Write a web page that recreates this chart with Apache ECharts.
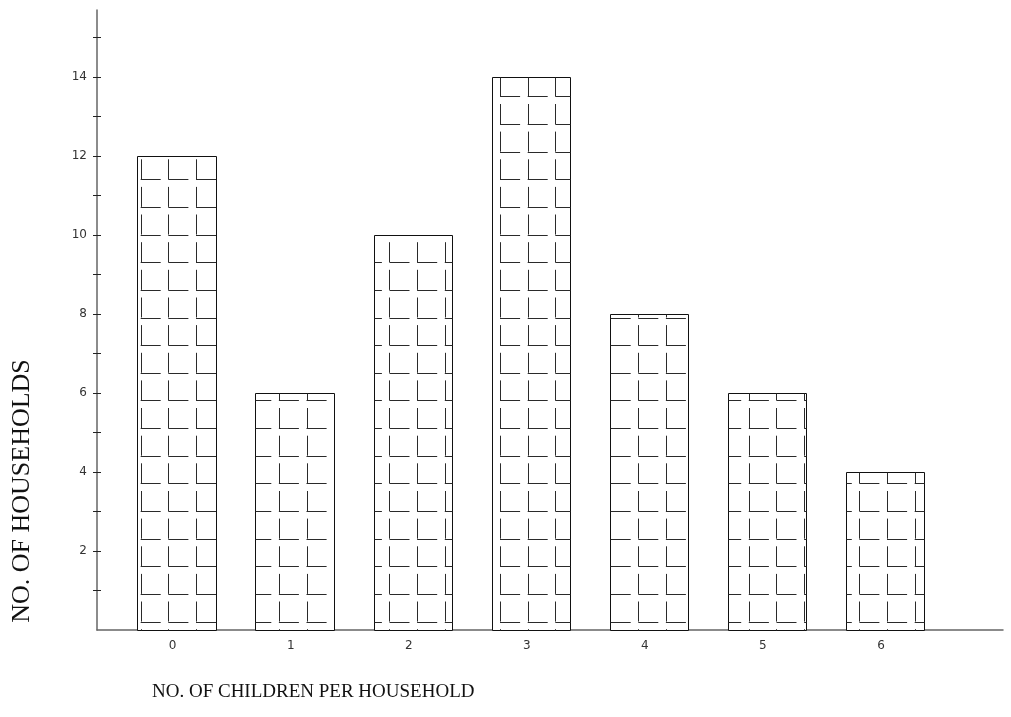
<!DOCTYPE html>
<html>
<head>
<meta charset="utf-8">
<script src="https://cdn.jsdelivr.net/npm/echarts@6/dist/echarts.min.js"></script>
<style>
  html, body { margin: 0; padding: 0; background: #fff; }
  #chart { width: 1011px; height: 717px; }
</style>
</head>
<body>
<div id="chart"></div>
<script>
// ---- data ----
const CATEGORIES = ['0', '1', '2', '3', '4', '5', '6'];
const HOUSEHOLDS = [12, 6, 10, 14, 8, 6, 4];
const Y_TICKS = [1, 2, 3, 4, 5, 6, 7, 8, 9, 10, 11, 12, 13, 14, 15];
const Y_LABELS = [2, 4, 6, 8, 10, 12, 14];
const X_LABELS = [0, 1, 2, 3, 4, 5, 6];
const X_TITLE = 'NO. OF CHILDREN PER HOUSEHOLD';
const Y_TITLE = 'NO. OF HOUSEHOLDS';

// ---- style constants (hatch pattern) ----
const BAR_W = 0.665;      // bar width in category units
const CELL = 0.7;         // hatch cell size in y units
const DASH_FRAC = 0.725;  // fraction of cell drawn by each stroke
const PHASE_Y = 0.213;    // y value of one hatch row
const PHASE_X = -0.305;   // x value of one hatch column

const seriesData = CATEGORIES.map((c, i) => [i, HOUSEHOLDS[i]]);

function px(v) { return Math.round(v) + 0.5; }

function renderItem(params, api) {
  const xv = api.value(0), yv = api.value(1);
  const tl = api.coord([xv - BAR_W / 2, yv]);
  const br = api.coord([xv + BAR_W / 2, 0]);
  const L = px(tl[0]), R = px(br[0]), T = px(tl[1]), B = px(br[1]);
  const cell = api.size([0, CELL])[1];
  const dash = cell * DASH_FRAC;
  const phaseY = api.coord([0, PHASE_Y])[1];
  const phaseX = api.coord([PHASE_X, 0])[0];
  let d = '';
  const k0 = Math.floor((T - phaseY) / cell) - 1;
  const k1 = Math.ceil((B - phaseY) / cell) + 1;
  const j0 = Math.floor((L - phaseX) / cell) - 1;
  const j1 = Math.ceil((R - phaseX) / cell) + 1;
  for (let k = k0; k <= k1; k++) {
    const yh = phaseY + k * cell;
    for (let j = j0; j <= j1; j++) {
      const xc = phaseX + j * cell;
      // horizontal stroke (bottom of the L)
      if (yh > T + 1.5 && yh < B - 1.5) {
        const x1 = Math.max(xc, L), x2 = Math.min(xc + dash, R);
        if (x2 - x1 > 0.8) {
          const yy = px(yh);
          d += 'M' + x1.toFixed(1) + ' ' + yy + 'L' + x2.toFixed(1) + ' ' + yy;
        }
      }
      // vertical stroke (left of the L)
      if (xc > L + 1.5 && xc < R - 1.5) {
        const y1 = Math.max(yh - dash, T), y2 = Math.min(yh, B);
        if (y2 - y1 > 0.8) {
          const xx = px(xc);
          d += 'M' + xx + ' ' + y1.toFixed(1) + 'L' + xx + ' ' + y2.toFixed(1);
        }
      }
    }
  }
  return {
    type: 'group',
    children: [
      { type: 'rect', shape: { x: L, y: T, width: R - L, height: B - T },
        style: { fill: '#fff', stroke: '#111', lineWidth: 1 } },
      { type: 'path', shape: { pathData: d || 'M0 0' },
        style: { fill: null, stroke: '#2a2a2a', lineWidth: 1 } }
    ]
  };
}

const chart = echarts.init(document.getElementById('chart'), null, { renderer: 'canvas' });
const labelFont = { fontFamily: 'DejaVu Sans', fontSize: 12, color: '#333' };

chart.setOption({
  animation: false,
  backgroundColor: '#fff',
  grid: { left: 97, right: 8, top: 10, bottom: 87 },
  xAxis: {
    type: 'value', min: -0.675, max: 7,
    axisLine: { onZero: false, lineStyle: { color: '#666', width: 1.5 } },
    axisTick: { show: false },
    splitLine: { show: false },
    axisLabel: Object.assign({
      customValues: X_LABELS,
      formatter: v => CATEGORIES[Math.round(v)],
      margin: 10, padding: [0, 8, 0, 0]
    }, labelFont)
  },
  yAxis: [{
    type: 'value', min: 0, max: 15.7, position: 'left',
    axisLine: { show: true, onZero: false, lineStyle: { color: '#666', width: 1.5 } },
    axisTick: { show: true, customValues: Y_TICKS, length: 4, lineStyle: { color: '#222' } },
    splitLine: { show: false },
    axisLabel: Object.assign({ customValues: Y_LABELS, margin: 10, padding: [5, 0, 0, 0] }, labelFont)
  }, {
    type: 'value', min: 0, max: 15.7, position: 'left',
    axisLine: { show: false, onZero: false },
    axisTick: { show: true, inside: true, customValues: Y_TICKS, length: 4, lineStyle: { color: '#222' } },
    splitLine: { show: false },
    axisLabel: { show: false }
  }],
  series: [{
    type: 'custom',
    renderItem: renderItem,
    data: seriesData,
    encode: { x: 0, y: 1 },
    clip: false
  }],
  graphic: [
    { type: 'text', left: 152, top: 683,
      style: { text: X_TITLE, font: '19px "Liberation Serif"', fill: '#111' } },
    { type: 'text', x: 22, y: 491, rotation: Math.PI / 2,
      style: { text: Y_TITLE, font: '26px "Liberation Serif"', fill: '#111', align: 'center', verticalAlign: 'middle' } }
  ]
});
</script>
</body>
</html>
